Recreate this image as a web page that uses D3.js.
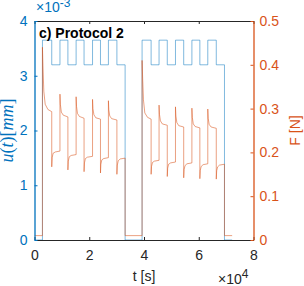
<html>
  <head>
    <title>c) Protocol 2</title>
    <script src="https://d3js.org/d3.v7.min.js"></script>
    <style>
      body {
        margin: 0;
        background-color: white;
      }
      svg {
        display: block;
        font-family: "Liberation Sans", Arial, sans-serif;
      }
    </style>
  </head>
  <body>
    <svg width="304" height="286"></svg>

    <script>
      // displacement u(t) in mm, step changes: [time s, value]
      var dispSteps = [
        [0, 0], [2900, 0.00365], [6300, 0.0032], [9300, 0.00365], [12200, 0.0032],
        [15200, 0.00365], [18100, 0.0032], [21200, 0.00365], [24100, 0.0032],
        [27000, 0.00365], [30100, 0.0032], [33100, 0],
        [39300, 0.00365], [42600, 0.0032], [45500, 0.00365], [48500, 0.0032],
        [51500, 0.00365], [54500, 0.0032], [57500, 0.00365], [60400, 0.0032],
        [63300, 0.00365], [66400, 0.0032], [69400, 0], [72200, 0]
      ];

      // force F in N: [time s, value]
      var forceBlock1 = [
        [0, 0.010], [2900, 0.010],
        [2900, 0.440], [3100, 0.395], [3400, 0.340], [3900, 0.310], [4900, 0.298], [6300, 0.293],
        [6300, 0.167], [6450, 0.188], [6800, 0.198], [7600, 0.201], [9300, 0.203],
        [9300, 0.333], [9450, 0.310], [9800, 0.292], [10500, 0.285], [12200, 0.281],
        [12200, 0.160], [12350, 0.180], [12700, 0.190], [13400, 0.193], [15200, 0.195],
        [15200, 0.327], [15350, 0.305], [15700, 0.289], [16400, 0.282], [18100, 0.278],
        [18100, 0.156], [18250, 0.176], [18600, 0.186], [19300, 0.189], [21200, 0.191],
        [21200, 0.321], [21350, 0.300], [21700, 0.286], [22400, 0.279], [24100, 0.276],
        [24100, 0.153], [24250, 0.173], [24600, 0.183], [25300, 0.186], [27000, 0.188],
        [27000, 0.318], [27150, 0.297], [27500, 0.283], [28200, 0.277], [30100, 0.274],
        [30100, 0.150], [30250, 0.171], [30600, 0.181], [31300, 0.185], [33100, 0.187],
        [33100, 0.010]
      ];
      var forceBlock2 = [
        [39300, 0.010],
        [39300, 0.410], [39500, 0.370], [39800, 0.320], [40300, 0.290], [41300, 0.280], [42600, 0.276],
        [42600, 0.150], [42750, 0.168], [43100, 0.177], [43800, 0.180], [45500, 0.182],
        [45500, 0.308], [45650, 0.287], [46000, 0.272], [46700, 0.265], [48500, 0.262],
        [48500, 0.145], [48650, 0.164], [49000, 0.173], [49700, 0.176], [51500, 0.178],
        [51500, 0.304], [51650, 0.283], [52000, 0.268], [52700, 0.261], [54500, 0.258],
        [54500, 0.142], [54650, 0.161], [55000, 0.170], [55700, 0.174], [57500, 0.176],
        [57500, 0.301], [57650, 0.280], [58000, 0.265], [58700, 0.259], [60400, 0.256],
        [60400, 0.140], [60550, 0.159], [60900, 0.168], [61600, 0.172], [63300, 0.174],
        [63300, 0.299], [63450, 0.278], [63800, 0.264], [64500, 0.258], [66400, 0.255],
        [66400, 0.139], [66550, 0.158], [66900, 0.167], [67600, 0.171], [69400, 0.173],
        [69400, 0.010], [72200, 0.010]
      ];

      var xTicks = [0, 20000, 40000, 60000, 80000];
      var uTicks = [0, 0.001, 0.002, 0.003, 0.004];
      var fTicks = [0, 0.1, 0.2, 0.3, 0.4, 0.5];

      var blue = '#0072BD';
      var orange = '#D95319';
      var dark = '#262626';

      // plot box (note: "top" is taken by window.top)
      var box = {left: 34.5, right: 253.5, top: 21, bottom: 240};

      var svg = d3.select('svg');

      var x = d3.scaleLinear().domain([0, 80000]).range([box.left, box.right]);
      var yU = d3.scaleLinear().domain([0, 0.004]).range([box.bottom, box.top]);
      var yF = d3.scaleLinear().domain([0, 0.5]).range([box.bottom, box.top]);

      svg.append('clipPath').attr('id', 'plotclip')
        .append('rect')
        .attr('x', box.left).attr('y', box.top - 1)
        .attr('width', box.right - box.left).attr('height', box.bottom - box.top + 2);

      var plot = svg.append('g').attr('clip-path', 'url(#plotclip)');

      var uLine = d3.line()
        .x(function(d){ return x(d[0]); })
        .y(function(d){ return yU(d[1]); })
        .curve(d3.curveStepAfter);

      var fLine = d3.line()
        .x(function(d){ return x(d[0]); })
        .y(function(d){ return yF(d[1]); });

      plot.append('path')
        .attr('d', uLine(dispSteps))
        .attr('fill', 'none')
        .attr('stroke', blue)
        .attr('stroke-width', 0.5);

      plot.append('path')
        .attr('d', fLine(forceBlock1.concat(forceBlock2)))
        .attr('fill', 'none')
        .attr('stroke', orange)
        .attr('stroke-width', 0.55);

      // axes
      var styleAxis = function(g, color){
        g.attr('font-size', null).attr('font-family', null);
        g.select('.domain').attr('stroke', color).attr('stroke-width', 1);
        g.selectAll('.tick line').attr('stroke', color);
        g.selectAll('.tick text').attr('fill', color).style('font-size', '14px');
      };

      var gBottom = svg.append('g')
        .attr('transform', 'translate(0,' + box.bottom + ')')
        .call(d3.axisBottom(x).tickValues(xTicks).tickSize(-3).tickSizeOuter(0).tickPadding(10)
          .tickFormat(function(d){ return d / 10000; }));
      styleAxis(gBottom, dark);

      var gTop = svg.append('g')
        .attr('transform', 'translate(0,' + box.top + ')')
        .call(d3.axisTop(x).tickValues(xTicks).tickSize(-3).tickSizeOuter(0).tickFormat(''));
      styleAxis(gTop, dark);

      var gLeft = svg.append('g')
        .attr('transform', 'translate(' + box.left + ',0)')
        .call(d3.axisLeft(yU).tickValues(uTicks).tickSize(-3).tickSizeOuter(0).tickPadding(7)
          .tickFormat(function(d){ return Math.round(d * 1000); }));
      styleAxis(gLeft, blue);
      gLeft.select('.domain').attr('stroke-width', 1.3);

      var gRight = svg.append('g')
        .attr('transform', 'translate(' + box.right + ',0)')
        .call(d3.axisRight(yF).tickValues(fTicks).tickSize(-3).tickSizeOuter(0).tickPadding(6)
          .tickFormat(function(d){ return d === 0 ? '0' : d3.format('.1f')(d); }));
      styleAxis(gRight, orange);
      gRight.select('.domain').attr('stroke-width', 1.3);

      // labels
      svg.append('text')
        .attr('x', (box.left + box.right) / 2).attr('y', 281)
        .attr('text-anchor', 'middle')
        .attr('fill', dark)
        .style('font-size', '14px')
        .text('t [s]');

      var xExp = svg.append('text')
        .attr('x', 218).attr('y', 284)
        .attr('fill', dark)
        .style('font-size', '14px');
      xExp.append('tspan').text('\u00d710');
      xExp.append('tspan').attr('dy', -6).style('font-size', '12px').text('4');

      var uExp = svg.append('text')
        .attr('x', 36).attr('y', 12)
        .attr('fill', blue)
        .style('font-size', '14px');
      uExp.append('tspan').text('\u00d710');
      uExp.append('tspan').attr('dy', -5).style('font-size', '12px').text('-3');

      var uLabel = svg.append('text')
        .attr('transform', 'translate(12.5,' + ((box.top + box.bottom) / 2) + ') rotate(-90)')
        .attr('text-anchor', 'middle')
        .attr('fill', blue)
        .style('font-family', '"Liberation Serif", "DejaVu Serif", serif')
        .style('font-size', '18px');
      uLabel.append('tspan').style('font-style', 'italic').text('u');
      uLabel.append('tspan').text('(');
      uLabel.append('tspan').style('font-style', 'italic').text('t');
      uLabel.append('tspan').text(')[');
      uLabel.append('tspan').style('font-style', 'italic').text('mm');
      uLabel.append('tspan').text(']');

      svg.append('text')
        .attr('transform', 'translate(300,' + ((box.top + box.bottom) / 2) + ') rotate(-90)')
        .attr('text-anchor', 'middle')
        .attr('fill', orange)
        .style('font-size', '14px')
        .text('F [N]');

      svg.append('text')
        .attr('x', 39).attr('y', 38)
        .attr('fill', 'black')
        .style('font-size', '14px')
        .style('font-weight', 'bold')
        .text('c) Protocol 2');
    </script>
  </body>
</html>
